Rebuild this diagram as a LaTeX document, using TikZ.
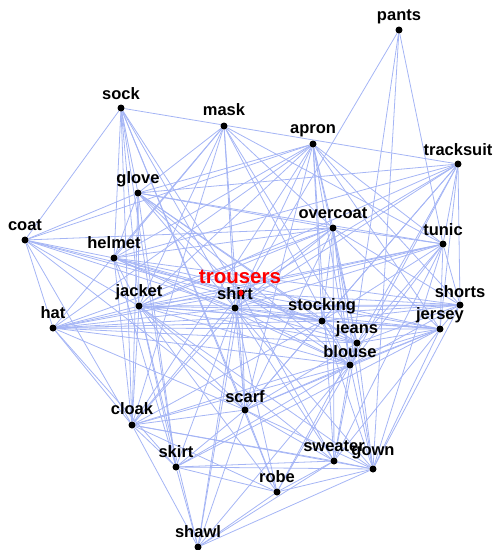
\documentclass[tikz,border=0pt]{standalone}
\usepackage{fontspec}
\setmainfont{Liberation Sans}
\usepackage{tikz}
\usetikzlibrary{backgrounds}
\definecolor{linkblue}{RGB}{165,181,245}

\begin{document}
\begin{tikzpicture}[x=1pt, y=-1pt,
          dot/.style={circle, fill=black, inner sep=0pt, minimum size=7pt},
          word/.style={anchor=base, inner sep=0pt,
                       font=\fontsize{16.5}{18}\selectfont\bfseries},
          link/.style={draw=linkblue, line width=0.8pt}]
        \useasboundingbox (0,0) rectangle (495,550);
        % words
        \node[dot] (pants)     at (399,30)  {};
        \node[dot] (sock)      at (121,108) {};
        \node[dot] (mask)      at (224,126) {};
        \node[dot] (apron)     at (313,144) {};
        \node[dot] (tracksuit) at (458,164) {};
        \node[dot] (glove)     at (138,193) {};
        \node[dot] (coat)      at (25,240)  {};
        \node[dot] (overcoat)  at (333,228) {};
        \node[dot] (tunic)     at (443,244) {};
        \node[dot] (helmet)    at (114,258) {};
        \node[dot] (shirt)     at (235,308) {};
        \node[dot] (hat)       at (53,328)  {};
        \node[dot] (jacket)    at (139,306) {};
        \node[dot] (stocking)  at (322,321) {};
        \node[dot] (shorts)    at (460,305) {};
        \node[dot] (jersey)    at (440,329) {};
        \node[dot] (jeans)     at (357,343) {};
        \node[dot] (blouse)    at (350,365) {};
        \node[dot] (scarf)     at (245,410) {};
        \node[dot] (cloak)     at (132,425) {};
        \node[dot] (skirt)     at (176,467) {};
        \node[dot] (sweater)   at (334,461) {};
        \node[dot] (gown)      at (373,469) {};
        \node[dot] (robe)      at (277,492) {};
        \node[dot] (shawl)     at (198,547) {};
        \node[dot, fill=red] (trousers) at (241,293) {};
        % links
        \begin{scope}[on background layer]
        \draw[link] (pants) edge (shirt) edge (blouse) edge (gown) edge (tunic);
        \draw[link] (sock) edge (tracksuit) edge (coat) edge (helmet) edge (glove)
          edge (jacket) edge (cloak) edge (skirt) edge (shirt) edge (trousers)
          edge (scarf) edge (robe);
        \draw[link] (mask) edge (glove) edge (helmet) edge (hat) edge (jacket)
          edge (shirt) edge (scarf) edge (blouse) edge (jeans) edge (overcoat)
          edge (tunic) edge (cloak);
        \draw[link] (apron) edge (glove) edge (coat) edge (helmet) edge (hat)
          edge (jacket) edge (overcoat) edge (stocking) edge (jeans) edge (blouse)
          edge (tunic) edge (shorts) edge (jersey) edge (shirt) edge (scarf)
          edge (cloak) edge (sweater);
        \draw[link] (tracksuit) edge (shirt) edge (trousers) edge (jacket)
          edge (helmet) edge (glove) edge (stocking) edge (jeans) edge (blouse)
          edge (scarf) edge (tunic) edge (shorts) edge (jersey);
        \draw[link] (glove) edge (helmet) edge (jacket) edge (cloak) edge (skirt)
          edge (overcoat) edge (tunic) edge (shirt) edge (trousers) edge (stocking)
          edge (jeans) edge (coat) edge (blouse);
        \draw[link] (coat) edge (overcoat) edge (helmet) edge (hat) edge (jacket)
          edge (trousers) edge (shirt) edge (cloak) edge (stocking) edge (scarf);
        \draw[link] (overcoat) edge (helmet) edge (hat) edge (jacket) edge (shirt)
          edge (trousers) edge (stocking) edge (jeans) edge (blouse) edge (tunic)
          edge (jersey) edge (shorts) edge (sweater) edge (gown) edge (scarf);
        \draw[link] (tunic) edge (shirt) edge (trousers) edge (jacket) edge (hat)
          edge (stocking) edge (jeans) edge (blouse) edge (shorts) edge (jersey)
          edge (sweater) edge (gown);
        \draw[link] (helmet) edge (shirt) edge (trousers) edge (jacket) edge (cloak)
          edge (stocking) edge (jersey) edge (blouse) edge (skirt) edge (shorts);
        \draw[link] (hat) edge (jacket) edge (shirt) edge (trousers) edge (stocking)
          edge (jersey) edge (jeans) edge (blouse) edge (cloak) edge (skirt)
          edge (scarf) edge (shorts);
        \draw[link] (jacket) edge (shirt) edge (trousers) edge (stocking) edge (jeans)
          edge (blouse) edge (jersey) edge (shorts) edge (cloak) edge (skirt)
          edge (scarf) edge (sweater) edge (robe) edge (shawl) edge (gown);
        \draw[link] (shirt) edge (trousers) edge (stocking) edge (jeans) edge (blouse)
          edge (jersey) edge (shorts) edge (scarf) edge (cloak) edge (skirt)
          edge (sweater) edge (gown) edge (robe) edge (shawl);
        \draw[link] (trousers) edge (stocking) edge (jeans) edge (blouse)
          edge (jersey) edge (shorts) edge (scarf) edge (cloak) edge (sweater)
          edge (shawl);
        \draw[link] (stocking) edge (jeans) edge (blouse) edge (jersey) edge (shorts)
          edge (scarf) edge (cloak) edge (gown);
        \draw[link] (jeans) edge (blouse) edge (jersey) edge (shorts) edge (scarf)
          edge (sweater) edge (gown) edge (robe);
        \draw[link] (blouse) edge (jersey) edge (shorts) edge (scarf) edge (cloak)
          edge (skirt) edge (sweater) edge (gown) edge (robe) edge (shawl);
        \draw[link] (jersey) edge (shorts) edge (scarf) edge (cloak) edge (skirt)
          edge (sweater) edge (gown);
        \draw[link] (shorts) edge (gown);
        \draw[link] (scarf) edge (cloak) edge (skirt) edge (sweater) edge (gown)
          edge (robe) edge (shawl);
        \draw[link] (cloak) edge (skirt) edge (shawl) edge (robe) edge (sweater)
          edge (gown);
        \draw[link] (skirt) edge (shawl) edge (robe) edge (sweater) edge (gown);
        \draw[link] (sweater) edge (gown) edge (robe) edge (shawl);
        \draw[link] (gown) edge (robe) edge (shawl);
        \draw[link] (robe) edge (shawl);
        \end{scope}
        % labels
        \node[word] (pants-t)     at ([yshift=10pt]pants)     {pants};
        \node[word] (sock-t)      at ([yshift=9pt]sock)       {sock};
        \node[word] (mask-t)      at ([yshift=11pt]mask)      {mask};
        \node[word] (apron-t)     at ([yshift=11pt]apron)     {apron};
        \node[word] (tracksuit-t) at ([yshift=9pt]tracksuit)  {tracksuit};
        \node[word] (glove-t)     at ([yshift=10pt]glove)     {glove};
        \node[word] (coat-t)      at ([yshift=10pt]coat)      {coat};
        \node[word] (overcoat-t)  at ([yshift=10pt]overcoat)  {overcoat};
        \node[word] (tunic-t)     at ([yshift=9pt]tunic)      {tunic};
        \node[word] (helmet-t)    at ([yshift=10pt]helmet)    {helmet};
        \node[word] (shirt-t)     at ([yshift=9pt]shirt)      {shirt};
        \node[word] (hat-t)       at ([yshift=10pt]hat)       {hat};
        \node[word] (jacket-t)    at ([yshift=10pt]jacket)    {jacket};
        \node[word] (stocking-t)  at ([yshift=11pt]stocking)  {stocking};
        \node[word] (shorts-t)    at ([yshift=8pt]shorts)     {shorts};
        \node[word] (jersey-t)    at ([yshift=10pt]jersey)    {jersey};
        \node[word] (jeans-t)     at ([yshift=10pt]jeans)     {jeans};
        \node[word] (blouse-t)    at ([yshift=8pt]blouse)     {blouse};
        \node[word] (scarf-t)     at ([yshift=8pt]scarf)      {scarf};
        \node[word] (cloak-t)     at ([yshift=11pt]cloak)     {cloak};
        \node[word] (skirt-t)     at ([yshift=10pt]skirt)     {skirt};
        \node[word] (sweater-t)   at ([yshift=10pt]sweater)   {sweater};
        \node[word] (gown-t)      at ([yshift=14pt]gown)      {gown};
        \node[word] (robe-t)      at ([yshift=10pt]robe)      {robe};
        \node[word] (shawl-t)     at ([yshift=10pt]shawl)     {shawl};
        \node[word, text=red, font=\fontsize{20.5}{22}\selectfont\bfseries]
          (trousers-t) at ([xshift=-1pt, yshift=10pt]trousers) {trousers};
        \node[dot, fill=red, minimum size=5pt] (trousers-d) at (trousers) {};
      \end{tikzpicture}
\end{document}
